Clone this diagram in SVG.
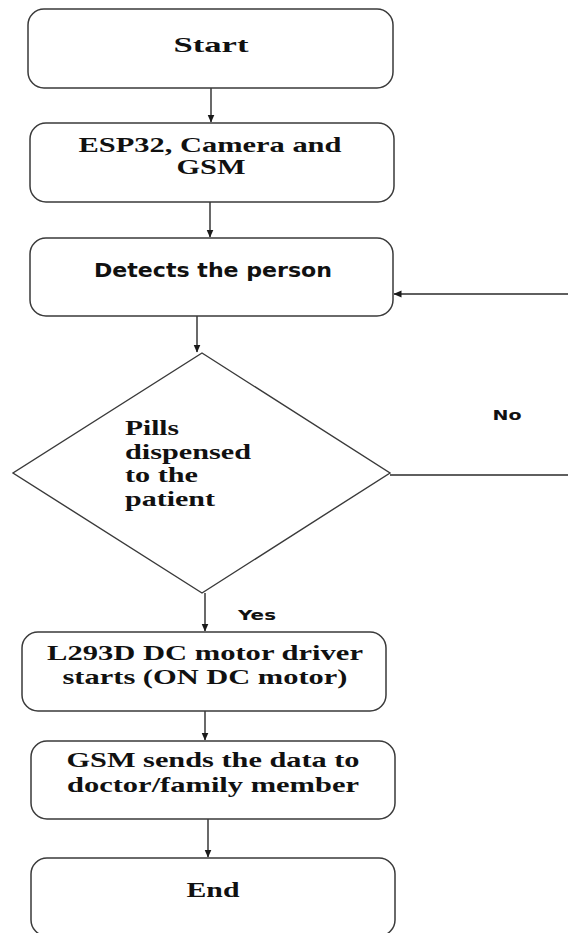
<svg xmlns="http://www.w3.org/2000/svg" width="568" height="933" viewBox="0 0 568 933">
<style>
.box{fill:#fff;stroke:#3a3a3a;stroke-width:1.5}
.dia{fill:#fff;stroke:#3a3a3a;stroke-width:1.4}
.conn{fill:none;stroke:#2a2a2a;stroke-width:1.4}
.t{font-family:"Liberation Serif","Times New Roman",serif;font-weight:bold;font-size:21px;fill:#111}
.s{font-family:"DejaVu Sans",Verdana,sans-serif;font-weight:bold;fill:#111}
</style>
<defs>
<marker id="ah" markerUnits="userSpaceOnUse" markerWidth="8" markerHeight="8" refX="7.5" refY="4" orient="auto">
<path d="M0,0.5 L8,4 L0,7.5 z" fill="#1a1a1a"/>
</marker>
</defs>
<rect width="568" height="933" fill="#fff"/>
<g id="connectors">
<line class="conn" x1="211" y1="88" x2="211" y2="122" marker-end="url(#ah)"/>
<line class="conn" x1="210" y1="202" x2="210" y2="237" marker-end="url(#ah)"/>
<line class="conn" x1="197" y1="316" x2="197" y2="352" marker-end="url(#ah)"/>
<line class="conn" x1="390" y1="475" x2="568" y2="475"/>
<line class="conn" x1="568" y1="294" x2="394" y2="294" marker-end="url(#ah)"/>
<line class="conn" x1="205" y1="593" x2="205" y2="631" marker-end="url(#ah)"/>
<line class="conn" x1="205" y1="711" x2="205" y2="740" marker-end="url(#ah)"/>
<line class="conn" x1="208" y1="819" x2="208" y2="857" marker-end="url(#ah)"/>
<text class="s" x="507" y="420" font-size="13.5" text-anchor="middle" textLength="29" lengthAdjust="spacingAndGlyphs">No</text>
<text class="s" x="257" y="620" font-size="13.5" text-anchor="middle" textLength="38" lengthAdjust="spacingAndGlyphs">Yes</text>
</g>
<g id="start">
<rect class="box" x="28" y="9" width="365" height="79" rx="16"/>
<text class="t" x="211" y="52" text-anchor="middle" textLength="75" lengthAdjust="spacingAndGlyphs">Start</text>
</g>
<g id="init">
<rect class="box" x="30" y="123" width="364" height="79" rx="16"/>
<text class="t" x="210" y="152" text-anchor="middle" textLength="263" lengthAdjust="spacingAndGlyphs">ESP32, Camera and</text>
<text class="t" x="211" y="174" text-anchor="middle" textLength="69" lengthAdjust="spacingAndGlyphs">GSM</text>
</g>
<g id="detect">
<rect class="box" x="30" y="238" width="363" height="78" rx="16"/>
<text class="s" x="213" y="277" font-size="19" text-anchor="middle" textLength="238" lengthAdjust="spacingAndGlyphs">Detects the person</text>
</g>
<g id="decision">
<polygon class="dia" points="202,353 390,473 202,593 13,473"/>
<text class="t" x="125" y="435" textLength="54" lengthAdjust="spacingAndGlyphs">Pills</text>
<text class="t" x="125" y="459" textLength="126" lengthAdjust="spacingAndGlyphs">dispensed</text>
<text class="t" x="125" y="482" textLength="73" lengthAdjust="spacingAndGlyphs">to the</text>
<text class="t" x="125" y="506" textLength="90" lengthAdjust="spacingAndGlyphs">patient</text>
</g>
<g id="motor">
<rect class="box" x="22" y="632" width="364" height="79" rx="16"/>
<text class="t" x="205" y="660" text-anchor="middle" textLength="316" lengthAdjust="spacingAndGlyphs">L293D DC motor driver</text>
<text class="t" x="205" y="684" text-anchor="middle" textLength="285" lengthAdjust="spacingAndGlyphs">starts (ON DC motor)</text>
</g>
<g id="gsm">
<rect class="box" x="31" y="741" width="364" height="78" rx="16"/>
<text class="t" x="213" y="767" text-anchor="middle" textLength="293" lengthAdjust="spacingAndGlyphs">GSM sends the data to</text>
<text class="t" x="213" y="792" text-anchor="middle" textLength="292" lengthAdjust="spacingAndGlyphs">doctor/family member</text>
</g>
<g id="end">
<rect class="box" x="31" y="858" width="364" height="78" rx="16"/>
<text class="t" x="213" y="897" text-anchor="middle" textLength="53" lengthAdjust="spacingAndGlyphs">End</text>
</g>
</svg>
